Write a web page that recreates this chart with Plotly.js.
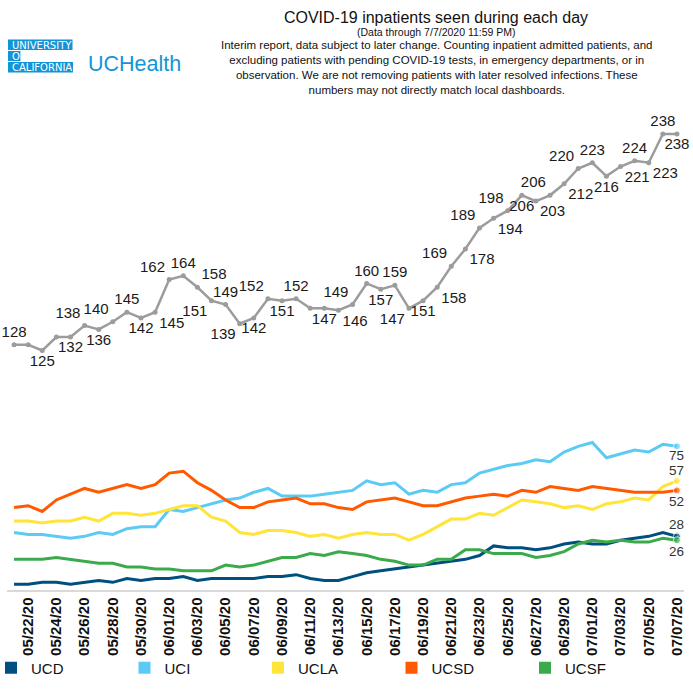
<!DOCTYPE html>
<html>
<head>
<meta charset="utf-8">
<script src="https://cdn.plot.ly/plotly-3.0.1.min.js"></script>
<style>html,body{margin:0;padding:0;background:#fff;}#chart{width:693px;height:695px;}</style>
</head>
<body>
<div id="chart"></div>
<script>
// ---- data ----
const dates = ["05/21/20","05/22/20","05/23/20","05/24/20","05/25/20","05/26/20","05/27/20","05/28/20","05/29/20","05/30/20","05/31/20",
  "06/01/20","06/02/20","06/03/20","06/04/20","06/05/20","06/06/20","06/07/20","06/08/20","06/09/20","06/10/20","06/11/20","06/12/20",
  "06/13/20","06/14/20","06/15/20","06/16/20","06/17/20","06/18/20","06/19/20","06/20/20","06/21/20","06/22/20","06/23/20","06/24/20",
  "06/25/20","06/26/20","06/27/20","06/28/20","06/29/20","06/30/20","07/01/20","07/02/20","07/03/20","07/04/20","07/05/20","07/06/20","07/07/20"];
const tickDates = ["05/22/20","05/24/20","05/26/20","05/28/20","05/30/20","06/01/20","06/03/20","06/05/20","06/07/20","06/09/20","06/11/20","06/13/20",
  "06/15/20","06/17/20","06/19/20","06/21/20","06/23/20","06/25/20","06/27/20","06/29/20","07/01/20","07/03/20","07/05/20","07/07/20"];
const total = [128,128,125,132,132,138,136,140,145,142,145,162,164,158,151,149,139,142,152,151,152,147,147,146,149,160,157,159,147,151,158,169,178,189,194,198,206,203,206,212,220,223,216,221,224,223,238,238];
const ucd  = [3,3,4,4,3,4,5,4,6,5,6,6,7,5,6,6,6,6,7,7,8,6,5,5,7,9,10,11,12,13,14,15,16,18,23,22,22,21,22,24,25,24,24,26,27,28,30,28];
const uci  = [30,29,29,28,27,28,30,29,32,33,33,42,41,43,45,47,48,51,53,49,49,49,50,51,52,57,55,56,50,52,51,55,56,61,63,65,66,68,67,72,75,77,69,71,73,72,76,75];
const ucla = [36,36,35,36,36,38,36,40,40,39,40,42,44,44,38,36,30,29,31,31,30,28,29,27,29,30,29,29,26,29,33,37,37,40,39,43,47,46,45,43,44,42,45,46,48,47,54,57];
const ucsd = [43,44,41,47,50,53,51,53,55,53,55,61,62,56,52,47,43,43,46,47,48,45,45,43,42,46,47,48,46,44,44,46,48,49,50,49,52,51,54,53,52,54,53,52,51,51,51,52];
const ucsf = [16,16,16,17,16,15,14,14,12,12,11,11,10,10,10,13,12,13,15,17,17,19,18,20,19,18,16,15,13,13,16,16,21,21,19,19,19,17,18,20,24,26,25,26,25,25,27,26];
const seriesNames = ["UCD","UCI","UCLA","UCSD","UCSF"];
const totalUnlabeled = [1,3,21];

// ---- styles ----
const colors = ["#00507F","#5BCBF5","#FFE43A","#FF5A00","#3BAA4B"];
const totalTextPos = ["top center","","bottom center","","bottom center","top left","bottom center","top left","top center","bottom center",
  "bottom right","top left","top center","top right","bottom left","top center","bottom left","bottom center","top left","bottom center",
  "top center","","bottom center","bottom right","top left","top center","bottom center","top center","bottom left","bottom center",
  "bottom right","top left","bottom right","top left","bottom right","top left","bottom center","bottom right","top left","bottom right",
  "top left","top center","bottom center","bottom right","top center","bottom right","top center","bottom center"]
  .map(p => p || "top center");
const endLabelShift = [12, -9, 10, -11, -11];

const L = 7, R = 684, T = 111, B = 590, W = 693, H = 695;
const px = v => (v - L) / (R - L);
const py = v => (B - v) / (B - T);
const FONT = "Liberation Sans, Arial, sans-serif";

const seriesData = [ucd, uci, ucla, ucsd, ucsf];
const traces = [];
const endAnnotations = [];
seriesData.forEach((vals, k) => {
  const n = vals.length;
  traces.push({
    type: "scatter", mode: "lines+markers", x: dates, y: vals, name: seriesNames[k], showlegend: false,
    line: {color: colors[k], width: 3},
    marker: {color: colors[k], size: vals.map((v, i) => i === n - 1 ? 7 : 0)},
    cliponaxis: false
  });
  endAnnotations.push({
    x: dates[n - 1], y: vals[n - 1], xref: "x", yref: "y", text: String(vals[n - 1]), showarrow: false,
    xanchor: "center", yanchor: "middle", yshift: endLabelShift[k],
    font: {family: FONT, size: 13.5, color: "#333"}
  });
});
traces.push({
  type: "scatter", mode: "lines+markers+text", x: dates, y: total, name: "Total", showlegend: false,
  line: {color: "#9c9c9c", width: 2.5},
  marker: {color: "#9c9c9c", size: 5},
  text: total.map((v, i) => totalUnlabeled.includes(i) ? "" : String(v)),
  textposition: totalTextPos,
  textfont: {family: FONT, size: 15, color: "#1a1a1a"},
  cliponaxis: false
});
seriesNames.forEach((nm, k) => {
  traces.push({type: "scatter", mode: "markers", x: [null], y: [null], name: nm, showlegend: true,
    marker: {symbol: "square", size: 12, color: colors[k]}});
});

const logoBlue = "#1295D8";
const layout = {
  width: W, height: H,
  margin: {l: L, r: W - R, t: T, b: H - B, pad: 0, autoexpand: false},
  paper_bgcolor: "#fff", plot_bgcolor: "#fff",
  showlegend: true,
  title: {text: "COVID-19 inpatients seen during each day", x: 436 / W, xanchor: "center", xref: "container",
    y: 1 - 17 / H, yanchor: "middle", yref: "container",
    font: {family: FONT, size: 16, color: "#111"}},
  xaxis: {type: "category", range: [-0.5, dates.length - 0.5], tickmode: "array", tickvals: tickDates, ticktext: tickDates,
    tickangle: -90, ticks: "", showgrid: false, zeroline: false, showline: true, linecolor: "#d9d9d9", linewidth: 1.5,
    automargin: false,
    tickfont: {family: FONT, size: 15, color: "#111", weight: "bold"}, fixedrange: true},
  yaxis: {range: [0, 250], tickmode: "array", tickvals: [250], showticklabels: false, showgrid: true, gridcolor: "#d9d9d9",
    gridwidth: 1.5, zeroline: false, showline: false, ticks: "", fixedrange: true, automargin: false},
  legend: {orientation: "h", x: px(-9), xanchor: "left", y: py(668), yanchor: "middle", entrywidth: 88.5, entrywidthmode: "pixels",
    font: {family: FONT, size: 15, color: "#111"}, bgcolor: "rgba(0,0,0,0)"},
  shapes: [
    {type: "rect", xref: "paper", yref: "paper", x0: px(8), x1: px(72.5), y0: py(39.5), y1: py(50), fillcolor: logoBlue, line: {width: 0}},
    {type: "rect", xref: "paper", yref: "paper", x0: px(8), x1: px(20.5), y0: py(51), y1: py(61), fillcolor: logoBlue, line: {width: 0}},
    {type: "rect", xref: "paper", yref: "paper", x0: px(8), x1: px(73), y0: py(62), y1: py(72.5), fillcolor: logoBlue, line: {width: 0}}
  ],
  annotations: [
    {text: "UNIVERSITY", xref: "paper", yref: "paper", x: px(9.5), y: py(45), xanchor: "left", yanchor: "middle", showarrow: false,
      font: {family: "DejaVu Sans, sans-serif", size: 10, color: "#fff"}},
    {text: "OF", xref: "paper", yref: "paper", x: px(9.5), y: py(56), xanchor: "left", yanchor: "middle", showarrow: false,
      font: {family: "DejaVu Sans, sans-serif", size: 10, color: "#fff"}},
    {text: "CALIFORNIA", xref: "paper", yref: "paper", x: px(9.5), y: py(67.3), xanchor: "left", yanchor: "middle", showarrow: false,
      font: {family: "DejaVu Sans, sans-serif", size: 10, color: "#fff"}},
    {text: "UCHealth", xref: "paper", yref: "paper", x: px(86), y: py(64), xanchor: "left", yanchor: "middle", showarrow: false,
      font: {family: FONT, size: 21.5, color: logoBlue}},
    {text: "(Data through 7/7/2020 11:59 PM)", xref: "paper", yref: "paper", x: px(436), y: py(31.5), xanchor: "center", yanchor: "middle",
      showarrow: false, font: {family: FONT, size: 10.5, color: "#111"}},
    {text: "Interim report, data subject to later change. Counting inpatient admitted patients, and<br>excluding patients with pending COVID-19 tests, in emergency departments, or in<br>observation. We are not removing patients with later resolved infections. These<br>numbers may not directly match local dashboards.",
      xref: "paper", yref: "paper", x: px(437), y: py(67.5), xanchor: "center", yanchor: "middle", align: "center",
      showarrow: false, font: {family: FONT, size: 11.5, color: "#111"}}
  ].concat(endAnnotations)
};
Plotly.newPlot("chart", traces, layout, {displayModeBar: false, staticPlot: true});
</script>
</body>
</html>
